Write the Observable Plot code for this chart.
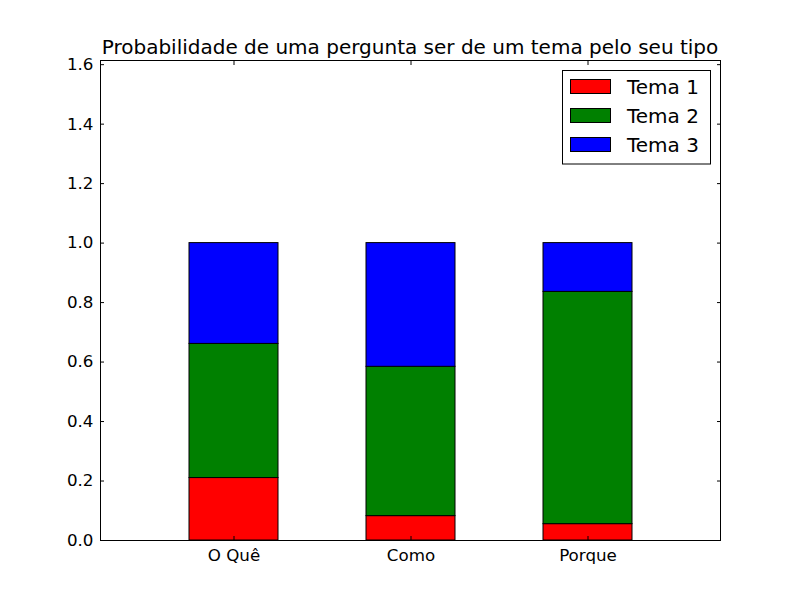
<!DOCTYPE html>
<html>
<head>
<meta charset="utf-8">
<script src="https://cdn.jsdelivr.net/npm/d3@7"></script>
<script src="https://cdn.jsdelivr.net/npm/@observablehq/plot@0.6"></script>
<style>
  html, body { margin: 0; padding: 0; background: #fff; }
  #chart { width: 800px; height: 600px; }
</style>
</head>
<body>
<div id="chart"></div>
<script>
const categories = ["O Quê", "Como", "Porque"];
const series = ["Tema 1", "Tema 2", "Tema 3"];
const tema1 = [0.210, 0.082, 0.055];
const tema2 = [0.451, 0.502, 0.781];
const tema3 = [0.339, 0.416, 0.164];
const colors = ["#ff0000", "#008000", "#0000ff"];
const yTicks = [0, 0.2, 0.4, 0.6, 0.8, 1.0, 1.2, 1.4, 1.6];
const title = "Probabilidade de uma pergunta ser de um tema pelo seu tipo";

const values = [tema1, tema2, tema3];
const data = [];
series.forEach((s, si) => categories.forEach((c, ci) => data.push({cat: c, tema: s, si, value: values[si][ci]})));

const font = "DejaVu Sans, sans-serif";
const fmt = d3.format(".1f");
const none = () => "";

const plot = Plot.plot({
  width: 800,
  height: 600,
  marginLeft: 100,
  marginRight: 80,
  marginTop: 60,
  marginBottom: 60,
  style: {fontFamily: font, fontSize: "16.7px", background: "white", color: "black"},
  x: {domain: categories, padding: 0.5, label: null},
  y: {domain: [0, 1.614], label: null},
  color: {domain: series, range: colors},
  marks: [
    Plot.barY(data, Plot.stackY({x: "cat", y: "value", fill: "tema", order: "si", stroke: "black", strokeWidth: 1})),
    Plot.frame({stroke: "black", strokeWidth: 1}),
    Plot.axisY({ticks: yTicks, anchor: "left", tickSize: 4, dx: 4, tickFormat: none, label: null, stroke: "black"}),
    Plot.axisY({ticks: yTicks, anchor: "right", tickSize: 4, dx: -4, tickFormat: none, label: null, stroke: "black"}),
    Plot.axisY({ticks: yTicks, anchor: "left", tickSize: 0, tickPadding: 7, tickFormat: fmt, label: null, fontSize: 16.7, fill: "black"}),
    Plot.axisX({anchor: "bottom", tickSize: 4, dy: -4, tickFormat: none, label: null, stroke: "black"}),
    Plot.axisX({anchor: "top", tickSize: 4, dy: 4, tickFormat: none, label: null, stroke: "black"}),
    Plot.axisX({anchor: "bottom", tickSize: 0, tickPadding: 9, label: null, fontSize: 16.7, fill: "black"})
  ]
});

document.getElementById("chart").appendChild(plot);

const svg = d3.select(plot);
svg.append("text")
  .attr("x", 410).attr("y", 54)
  .attr("text-anchor", "middle")
  .attr("font-family", font).attr("font-size", 20)
  .attr("fill", "black")
  .text(title);

const lg = svg.append("g");
lg.append("rect")
  .attr("x", 562.5).attr("y", 70.5).attr("width", 148).attr("height", 93.5)
  .attr("fill", "white").attr("stroke", "black").attr("stroke-width", 1);
series.forEach((s, i) => {
  const yy = 79 + i * 29;
  lg.append("rect")
    .attr("x", 570.5).attr("y", yy + 0.5).attr("width", 40).attr("height", 14)
    .attr("fill", colors[i]).attr("stroke", "black").attr("stroke-width", 1);
  lg.append("text")
    .attr("x", 627).attr("y", yy + 7.5).attr("dy", "0.35em")
    .attr("text-anchor", "start")
    .attr("font-family", font).attr("font-size", 20).attr("fill", "black")
    .text(s);
});
</script>
</body>
</html>
